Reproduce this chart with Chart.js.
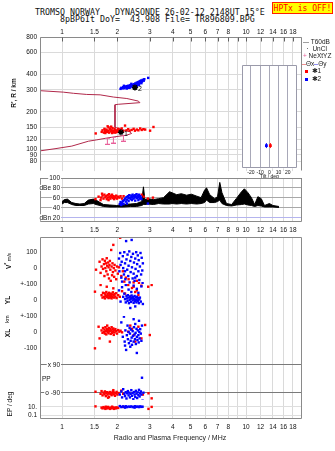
<!DOCTYPE html>
<html><head><meta charset="utf-8">
<script src="https://cdn.jsdelivr.net/npm/chart.js@4.4.0/dist/chart.umd.min.js"></script>
<style>
body{margin:0;background:#fff;width:335px;height:451px;overflow:hidden;position:relative;font-family:"Liberation Sans",Arial,sans-serif;}
canvas{position:absolute;left:0;}
.t{position:absolute;white-space:pre;line-height:1;color:#111;}
.mono{font-family:"DejaVu Sans Mono",monospace;font-size:8.3px;}
.rot{transform:translate(-50%,-50%) rotate(-90deg);}
.lg{position:absolute;font-size:6.5px;line-height:1;white-space:pre;color:#222;}
</style></head><body>
<div class="t mono" style="left:35px;top:8px;">TROMSO NORWAY   DYNASONDE 26-02-12 2148UT 15°E</div>
<div class="t mono" style="left:60px;top:15px;">8pBP6It DoY=  43.908 File= TR896809.BPG</div>
<div class="t mono" style="left:272px;top:2px;width:59px;height:10px;background:#ffff00;border:1px solid #ff2000;color:#ff0000;text-align:center;line-height:11px;font-size:8px;">HPTx is OFF!</div>

<canvas id="cT" width="335" height="178" style="top:0px"></canvas>
<canvas id="cI" width="72" height="120" style="top:60px;left:230px"></canvas>
<canvas id="cS" width="335" height="62" style="top:170px"></canvas>
<canvas id="cV" width="335" height="221" style="top:230px"></canvas>

<div class="t rot" style="left:14px;top:93px;font-size:6.5px;font-weight:bold;">R', R / km</div>
<div class="t rot" style="left:8px;top:261px;font-size:6.5px;font-weight:bold;">V<sup style="font-size:5px">*</sup> <span style="font-size:5px;font-weight:normal">m/s</span></div>
<div class="t rot" style="left:8px;top:300px;font-size:6.5px;font-weight:bold;">YL</div>
<div class="t rot" style="left:8px;top:319px;font-size:5.5px;">km</div>
<div class="t rot" style="left:8px;top:333px;font-size:6.5px;font-weight:bold;">XL</div>
<div class="t" style="left:42px;top:376px;font-size:6.5px;">PP</div>
<div class="t rot" style="left:10px;top:404px;font-size:6.5px;">EP / deg</div>
<div class="t" style="left:170px;top:434px;font-size:7px;transform:translateX(-50%);color:#222;">Radio and Plasma Frequency / MHz</div>

<div class="lg" style="left:303px;top:39px;"><span style="display:inline-block;width:6px;border-top:1px solid #a0a0a0;vertical-align:middle;"></span> T60dB</div>
<div class="lg" style="left:303px;top:46px;">  ·  UnCl</div>
<div class="lg" style="left:303px;top:53px;"><span style="color:#e8609a">+</span> NeXtYZ</div>
<div class="lg" style="left:302px;top:61px;"><span style="display:inline-block;width:4px;border-top:1px solid #f09090;vertical-align:middle;"></span>Θx<span style="display:inline-block;width:4px;border-top:1px solid #9090f0;vertical-align:middle;"></span>Θy</div>
<div class="lg" style="left:305px;top:68px;"><span style="display:inline-block;width:3px;height:3px;background:#ff0000;vertical-align:middle;"></span>  ✱1</div>
<div class="lg" style="left:305px;top:76px;"><span style="display:inline-block;width:3px;height:3px;background:#0000ff;vertical-align:middle;"></span>  ✱2</div>

<script>
// ---------- axis ticks ----------
const freqTicks = [1,1.5,2,3,4,5,6,7,8,9,10,12,14,16,18];
const freqTickLabels = ['1','1.5','2','3','4','5','6','7','8','9','10','12','14','16','18'];
const heightTicks = [800,600,400,300,200,150,120,100,90,80];
const heightTickLabels = ['800','600','400','300','200','150','120','100','90','80'];
const snrTicks = [100,80,60,40,20];
const snrTickLabels = ['100','dBe 80','60','40','dBn 20'];
const vzTicks = [100,0], vzTickLabels = ['100','0'];
const ylTicks = [100,0], ylTickLabels = ['+-100','0'];
const xlTicks = [100,0,-100], xlTickLabels = ['+-100','0','-100'];
const ppTicks = [90,-90], ppTickLabels = ['x 90','o -90'];
const epTicks = [10,0.1], epTickLabels = ['10.','0.1'];
const tiltTicks = [-20,-10,0,10,20], tiltTickLabels = ['-20','-10','0','10','20'];

// ---------- height panel ----------
const profile = [[0.759,296],[1.016,288],[1.152,282],[1.362,276],[1.61,274],[1.90,263],[2.25,256],[2.60,244],[2.65,237],[2.02,230],[1.94,228],[1.94,150],[2.34,138],[2.39,134],[2.25,130],[2.10,128],[1.94,126],[1.75,123],[1.545,119],[1.39,116],[1.13,106],[0.916,101],[0.759,97]];
const nextYZ = [[1.763,116],[1.90,118.6],[2.155,123]];
const redH = [[1.524,134],[1.643,138],[1.66,142],[1.69,136],[1.713,140],[1.72,135],[1.74,144],[1.76,138],[1.786,141],[1.80,136],[1.79,150],[1.82,146],[1.84,139],[1.862,142],[1.87,135],[1.88,148],[1.90,140],[1.92,137],[1.941,143],[1.95,136],[1.97,141],[1.99,138],[2.02,146],[2.04,139],[1.77,153],[1.85,152],[2.07,143],[2.11,147],[2.15,140],[2.20,155],[2.24,142],[2.29,145],[2.33,141],[2.39,143],[2.45,146],[2.49,141],[2.55,144],[2.60,142],[2.66,147],[2.71,143],[2.77,145],[2.83,144],[3.01,141],[3.14,151],[1.70,146],[1.83,144],[1.93,146],[2.00,142],[1.75,141],[1.89,137]];
const blueH = [[2.08,306],[2.10,312],[2.13,309],[2.15,316],[2.18,310],[2.20,320],[2.22,314],[2.24,318],[2.26,322],[2.28,312],[2.30,325],[2.32,318],[2.35,328],[2.37,320],[2.40,330],[2.42,316],[2.44,324],[2.46,334],[2.48,326],[2.50,338],[2.52,330],[2.54,342],[2.56,334],[2.58,346],[2.60,338],[2.62,350],[2.64,342],[2.66,354],[2.68,346],[2.70,358],[2.72,350],[2.75,362],[2.78,356],[2.80,366],[2.94,375],[2.25,308],[2.33,312],[2.45,318],[2.38,336],[2.55,322],[2.17,324],[2.62,330],[2.50,312],[2.70,340]];
const starPts = [[2.09,137],[2.49,314]];
const starLabels = ['1','2'];
const tiltRed = [[1.1,22]], tiltBlue = [[-3.2,22]];

// ---------- SNR panel ----------
const snrF  = [1.0,1.03,1.07,1.13,1.19,1.25,1.32,1.39,1.48,1.53,1.61,1.68,1.82,1.98,2.16,2.35,2.54,2.71,2.77,2.82,2.93,3.14,3.35,3.56,3.84,3.96,4.2,4.45,4.75,5.05,5.4,5.7,5.95,6.1,6.35,6.75,7.0,7.2,7.4,7.83,8.35,8.85,9.45,9.8,10.25,10.7,11.15,11.6,12.1,12.6,13.4,14.0,15.1];
const snrHi = [52,56,57,50,48,47,48,55,57,55,50,46,45,44,46,47,48,52,82,56,58,56,58,60,72,70,66,68,65,67,63,60,75,80,66,58,62,91,70,48,46,58,72,78,70,60,46,62,58,44,48,44,42];
const snrLo = [47,50,50,46,44,44,44,47,48,46,44,42,41,41,41,42,42,44,46,46,47,46,48,47,47,48,47,48,47,48,47,48,50,55,50,50,52,55,48,44,43,45,46,47,45,44,42,44,43,41,41,41,40];
const redS = [[1.52,57],[1.58,62],[1.63,60],[1.66,64],[1.68,58],[1.70,66],[1.72,61],[1.74,63],[1.75,57],[1.77,65],[1.78,60],[1.80,67],[1.81,62],[1.83,58],[1.84,64],[1.86,61],[1.87,66],[1.89,59],[1.90,63],[1.92,57],[1.93,62],[1.95,60],[1.97,64],[1.99,58],[2.02,62],[2.05,60],[2.08,63],[2.12,58],[2.16,63],[1.62,55],[1.79,55],[2.71,66],[2.78,62],[2.93,58],[3.12,60],[1.65,68]];
const blueS = [[2.06,47],[2.08,51],[2.10,45],[2.12,49],[2.14,53],[2.16,47],[2.18,55],[2.20,58],[2.22,52],[2.24,61],[2.26,56],[2.28,63],[2.30,59],[2.32,65],[2.34,60],[2.36,57],[2.38,64],[2.40,61],[2.42,66],[2.44,58],[2.46,63],[2.48,60],[2.50,65],[2.52,62],[2.54,67],[2.56,59],[2.58,64],[2.60,61],[2.62,66],[2.64,58],[2.66,63],[2.68,60],[2.70,57],[2.40,55],[2.30,53],[2.50,54],[2.93,48],[2.60,55],[2.25,48]];

// ---------- velocity / position / polarization panel ----------
const redVz = [[1.53,-10],[1.60,40],[1.62,-30],[1.64,10],[1.66,55],[1.67,-5],[1.69,25],[1.70,-50],[1.71,46],[1.72,0],[1.73,30],[1.74,-20],[1.75,62],[1.76,15],[1.77,-40],[1.78,35],[1.79,5],[1.80,-65],[1.81,20],[1.82,45],[1.83,-10],[1.84,-80],[1.85,114],[1.86,10],[1.87,-45],[1.88,30],[1.89,-25],[1.90,146],[1.91,0],[1.92,-55],[1.93,20],[1.95,-15],[1.97,-70],[1.99,10],[2.01,-35],[2.04,5],[2.07,191],[2.10,-50],[2.14,-20],[2.18,-85],[2.22,-60],[2.30,-70],[2.45,-90],[2.55,-80],[2.62,-95]];
const blueVz = [[2.04,60],[2.05,-20],[2.07,95],[2.08,20],[2.10,-60],[2.11,40],[2.12,-85],[2.14,75],[2.15,0],[2.17,-40],[2.18,100],[2.20,30],[2.21,-70],[2.23,170],[2.24,55],[2.26,-10],[2.27,85],[2.29,-50],[2.30,15],[2.32,105],[2.33,-90],[2.35,45],[2.36,-25],[2.38,70],[2.39,177],[2.40,5],[2.42,-65],[2.43,90],[2.45,-35],[2.46,35],[2.48,-80],[2.50,60],[2.51,-5],[2.53,100],[2.55,-50],[2.56,25],[2.58,80],[2.60,-20],[2.61,50],[2.63,-75],[2.65,10],[2.67,95],[2.69,-40],[2.71,65],[2.73,-15],[2.75,30],[2.74,-95],[2.20,-20],[2.50,-60]];
const redYL = [[1.51,52],[1.62,94],[1.64,30],[1.66,15],[1.67,45],[1.69,20],[1.70,42],[1.71,10],[1.72,35],[1.73,25],[1.74,50],[1.75,83],[1.76,18],[1.77,38],[1.78,28],[1.79,12],[1.80,45],[1.81,22],[1.82,33],[1.83,15],[1.84,40],[1.85,25],[1.86,10],[1.87,35],[1.88,20],[1.89,48],[1.90,73],[1.91,30],[1.92,15],[1.93,38],[1.95,22],[1.97,42],[1.98,12],[2.02,30],[2.06,20],[2.12,55],[2.20,40],[2.29,94],[2.35,20],[2.40,75],[2.45,83],[2.50,50],[2.55,60],[2.60,30],[2.70,90],[2.94,83],[3.07,94]];
const blueYL = [[2.04,60],[2.08,-10],[2.12,80],[2.15,20],[2.18,40],[2.20,5],[2.22,-15],[2.24,25],[2.25,10],[2.27,-5],[2.28,30],[2.30,15],[2.31,-20],[2.33,0],[2.34,22],[2.36,8],[2.37,-12],[2.39,28],[2.40,12],[2.42,-2],[2.43,18],[2.45,-18],[2.46,5],[2.48,25],[2.49,-8],[2.51,15],[2.52,0],[2.54,-15],[2.55,20],[2.57,8],[2.58,-5],[2.60,12],[2.62,-20],[2.63,3],[2.65,15],[2.68,-10],[2.30,65],[2.45,90],[2.55,70],[2.38,50],[2.60,45],[2.70,85],[2.22,94],[2.50,-40],[2.75,-25],[2.35,-50]];
const redXL = [[1.51,-102],[1.58,33],[1.64,10],[1.66,-5],[1.67,25],[1.69,0],[1.70,15],[1.71,-10],[1.72,30],[1.73,5],[1.74,-15],[1.75,20],[1.76,40],[1.77,0],[1.78,12],[1.79,-8],[1.80,25],[1.81,5],[1.82,-60],[1.83,18],[1.84,-12],[1.85,8],[1.86,30],[1.87,-5],[1.88,15],[1.89,0],[1.90,22],[1.91,-18],[1.92,10],[1.93,-3],[1.95,18],[1.97,5],[1.99,-10],[2.02,12],[2.05,2],[2.08,8],[2.12,-2],[2.29,2],[2.35,40],[2.40,20],[2.45,-20],[2.50,-60],[2.60,33],[2.70,-40],[2.83,44],[3.00,-19],[1.60,-40]];
const blueXL = [[2.10,60],[2.14,-30],[2.17,96],[2.19,-60],[2.21,10],[2.23,-112],[2.25,-20],[2.27,40],[2.28,-45],[2.30,0],[2.31,-70],[2.33,25],[2.34,-10],[2.36,-55],[2.37,15],[2.39,-35],[2.40,-80],[2.42,5],[2.43,-25],[2.45,-60],[2.46,30],[2.48,-15],[2.49,-45],[2.51,-5],[2.52,-75],[2.54,20],[2.55,-30],[2.57,-50],[2.58,10],[2.60,-20],[2.61,-65],[2.63,0],[2.64,-40],[2.66,18],[2.68,-10],[2.70,-55],[2.45,80],[2.55,-131],[2.35,-92],[2.62,70],[2.72,40],[2.20,-85],[2.50,50]];
const redPP = [[1.52,-82],[1.62,-95],[1.64,-78],[1.66,-105],[1.68,-88],[1.70,-98],[1.71,-80],[1.73,-110],[1.74,-92],[1.76,-85],[1.77,-100],[1.79,-90],[1.80,-115],[1.82,-84],[1.83,-97],[1.85,-88],[1.86,-104],[1.88,-92],[1.89,-80],[1.91,-99],[1.92,-87],[1.94,-108],[1.96,-93],[1.98,-83],[2.00,-100],[2.03,-90],[1.90,-72],[2.10,-75],[2.15,-95],[2.75,-100],[2.95,-92],[3.07,-124],[1.78,-120]];
const bluePP = [[2.06,-100],[2.10,-80],[2.12,-118],[2.15,-66],[2.18,-95],[2.20,-110],[2.22,-85],[2.24,-125],[2.26,-92],[2.28,-78],[2.30,-105],[2.32,-88],[2.34,-118],[2.36,-96],[2.38,-72],[2.40,-108],[2.42,-90],[2.44,-130],[2.46,-84],[2.48,-100],[2.50,-115],[2.52,-76],[2.54,-94],[2.56,-122],[2.58,-86],[2.60,-104],[2.62,-70],[2.64,-112],[2.66,-92],[2.68,-80],[2.70,-100],[2.74,-139],[2.77,-88],[2.72,7]];
const redEP = [[1.52,12],[1.64,6],[1.66,4],[1.68,8],[1.70,5],[1.72,3],[1.74,7],[1.76,4],[1.78,9],[1.80,5],[1.82,3],[1.84,6],[1.86,4],[1.88,8],[1.90,5],[1.92,3],[1.94,6],[1.96,4],[1.98,7],[2.02,5],[2.15,9],[2.95,3],[3.07,9],[1.73,10],[1.87,10]];
const blueEP = [[2.06,14],[2.10,8],[2.14,12],[2.18,9],[2.22,13],[2.26,8],[2.30,11],[2.34,9],[2.38,12],[2.42,8],[2.46,10],[2.50,13],[2.54,9],[2.58,11],[2.62,8],[2.66,12],[2.70,9],[2.74,10],[2.20,6],[2.48,6]];

// ---------- helpers ----------
const RED = '#ff0000', BLUE = '#0000ff';
const pts = a => a.map(([x,y]) => ({x, y}));
Chart.defaults.font.family = '"Liberation Sans", Arial, sans-serif';
Chart.defaults.font.size = 6.5;
Chart.defaults.color = '#111';
Chart.defaults.animation = false;
Chart.defaults.plugins.legend.display = false;
Chart.defaults.plugins.tooltip.enabled = false;

const framePlugin = {
  id: 'frame',
  afterDraw(chart, args, o) {
    if (!o || !o.color) return;
    const {ctx, chartArea: a} = chart;
    ctx.save();
    ctx.strokeStyle = o.color; ctx.lineWidth = 1;
    const l = Math.round(a.left) + 0.5, r = Math.round(a.right) - 0.5, t = Math.round(a.top) + 0.5, b = Math.round(a.bottom) - 0.5;
    ctx.beginPath();
    ctx.moveTo(l, b); ctx.lineTo(l, t); ctx.lineTo(r, t); ctx.lineTo(r, b);
    if (o.bottom) ctx.lineTo(l, b);
    ctx.stroke();
    if (o.topTicks) {
      ctx.strokeStyle = '#606060';
      chart.scales.x.ticks.forEach(tk => {
        const x = Math.round(chart.scales.x.getPixelForValue(tk.value)) + 0.5;
        ctx.beginPath(); ctx.moveTo(x, t); ctx.lineTo(x, t + 4); ctx.stroke();
      });
    }
    ctx.restore();
  }
};
const insidePlugin = {
  id: 'inside',
  afterDraw(chart, args, o) {
    if (!o || !o.items) return;
    const {ctx} = chart;
    ctx.save();
    ctx.font = '6.5px "Liberation Sans", Arial, sans-serif';
    o.items.forEach(it => {
      const ys = chart.scales[it.axis];
      const xr = chart.scales.x.getPixelForValue(it.anchor) - 2;
      it.values.forEach((v, i) => {
        const y = ys.getPixelForValue(v), t = it.labels[i];
        const w = ctx.measureText(t).width;
        ctx.fillStyle = '#fff'; ctx.fillRect(xr - w - 1, y - 3, w + 2, 6);
        ctx.fillStyle = '#111'; ctx.textAlign = 'right'; ctx.textBaseline = 'middle';
        ctx.fillText(t, xr, y + 0.5);
      });
    });
    ctx.restore();
  }
};
const starPlugin = {
  id: 'starText',
  afterDatasetsDraw(chart, args, o) {
    if (!o || o.dataset === undefined) return;
    const {ctx} = chart;
    ctx.save();
    ctx.font = '7px "Liberation Sans", Arial, sans-serif';
    ctx.fillStyle = '#000'; ctx.textBaseline = 'middle'; ctx.textAlign = 'left';
    chart.getDatasetMeta(o.dataset).data.forEach((el, i) => ctx.fillText(o.labels[i], el.x + 3, el.y + 1.5));
    ctx.restore();
  }
};
const whiteAreaPlugin = {
  id: 'whiteArea',
  beforeDraw(chart, args, o) {
    if (!o || !o.on) return;
    const a = chart.chartArea;
    chart.ctx.save(); chart.ctx.fillStyle = '#fff';
    chart.ctx.fillRect(a.left, a.top, a.right - a.left, a.bottom - a.top);
    chart.ctx.restore();
  }
};
Chart.register(framePlugin, insidePlugin, starPlugin, whiteAreaPlugin);

function iMarker(color) {
  const c = document.createElement('canvas'); c.width = 5; c.height = 7;
  const g = c.getContext('2d'); g.fillStyle = color;
  g.fillRect(2, 0, 1, 7); g.fillRect(0, 0, 5, 1); g.fillRect(0, 6, 5, 1);
  return c;
}
function xScale(position, showLabels, hide9, pad, h) {
  return {
    type: 'logarithmic', position, min: 0.759, max: 20.15, bounds: 'data',
    afterBuildTicks: s => { s.ticks = freqTicks.map(v => ({value: v})); },
    ticks: { display: showLabels, autoSkip: false, maxRotation: 0, minRotation: 0, padding: pad,
      callback: (v, i) => (hide9 && freqTickLabels[i] === '9') ? '' : freqTickLabels[i] },
    grid: { color: '#dadada', drawTicks: false },
    border: { display: false },
    afterFit: s => { s.height = h; }
  };
}
function yScale(opts, ticks, labels, extra) {
  return Object.assign({
    position: 'left', bounds: 'data',
    afterBuildTicks: s => { s.ticks = ticks.map(v => ({value: v})); },
    ticks: { autoSkip: false, padding: 3, callback: (v, i) => labels[i] },
    grid: { display: false, drawTicks: false },
    border: { display: false },
    afterFit: s => { s.width = 40; }
  }, opts, extra || {});
}
const sq = (data, color, axis, order) => ({ data: pts(data), pointStyle: 'rect', pointRadius: 1.7, backgroundColor: color, borderWidth: 0, yAxisID: axis, order });

// ---------- Chart 1: virtual height ----------
new Chart(document.getElementById('cT'), {
  type: 'scatter',
  data: { datasets: [
    { data: pts(starPts), pointStyle: 'star', pointRadius: 3, borderColor: '#000', borderWidth: 1.4, order: 0 },
    sq(redH, RED, 'y', 2),
    sq(blueH, BLUE, 'y', 1),
    { data: pts(nextYZ), pointStyle: iMarker('#e8609a'), pointRadius: 3, order: 3 },
    { data: pts(profile), showLine: true, borderColor: '#b0284a', borderWidth: 1, pointRadius: 0, order: 4 }
  ]},
  options: {
    responsive: false, devicePixelRatio: 1,
    layout: { padding: { right: 33, left: 0, top: 0, bottom: 0 } },
    scales: {
      x: xScale('top', true, true, 1, 37),
      y: yScale({ type: 'logarithmic', min: 66.7, max: 800 }, heightTicks, heightTickLabels,
        { grid: { color: '#dadada', drawTicks: false } })
    },
    plugins: { frame: { color: '#8a8a8a', topTicks: true }, starText: { dataset: 0, labels: starLabels } }
  }
});

// ---------- Chart 1b: tilt inset ----------
new Chart(document.getElementById('cI'), {
  type: 'scatter',
  data: { datasets: [
    { data: pts(tiltRed), pointStyle: 'rect', pointRadius: 2, backgroundColor: RED, borderWidth: 0 },
    { data: pts(tiltRed), pointStyle: 'line', rotation: 90, pointRadius: 2.5, borderColor: RED, borderWidth: 1 },
    { data: pts(tiltBlue), pointStyle: 'rect', pointRadius: 2, backgroundColor: BLUE, borderWidth: 0 },
    { data: pts(tiltBlue), pointStyle: 'line', rotation: 90, pointRadius: 2.5, borderColor: BLUE, borderWidth: 1 }
  ]},
  options: {
    responsive: false, devicePixelRatio: 1,
    layout: { padding: { left: 11.7, right: 4.3, top: 5, bottom: 0 } },
    scales: {
      x: { type: 'linear', min: -30, max: 30, bounds: 'data',
        afterBuildTicks: s => { s.ticks = tiltTicks.map(v => ({value: v})); },
        ticks: { font: { size: 5 }, padding: 1, autoSkip: false, maxRotation: 0, callback: (v, i) => tiltTickLabels[i] },
        grid: { color: '#a8a8b8', drawTicks: false }, border: { display: false },
        title: { display: true, text: 'Tilt / deg', font: { size: 5 }, padding: 0 },
        afterFit: s => { s.height = 11.7; } },
      y: { type: 'linear', min: 0, max: 100, display: false }
    },
    plugins: { frame: { color: '#9a9aaa', bottom: true }, whiteArea: { on: true } }
  }
});

// ---------- Chart 2: SNR ----------
new Chart(document.getElementById('cS'), {
  type: 'scatter',
  data: { datasets: [
    sq(redS, RED, 'y', 1),
    sq(blueS, BLUE, 'y', 0),
    { data: snrF.map((f, i) => ({x: f, y: snrLo[i]})), showLine: true, borderColor: '#000', borderWidth: 1, pointRadius: 0, order: 5 },
    { data: snrF.map((f, i) => ({x: f, y: snrHi[i]})), showLine: true, borderColor: '#000', borderWidth: 1, pointRadius: 0, fill: '-1', backgroundColor: '#000', order: 6 }
  ]},
  options: {
    responsive: false, devicePixelRatio: 1,
    layout: { padding: { right: 33, left: 0, top: 8, bottom: 0 } },
    scales: {
      x: xScale('bottom', true, false, 4, 10),
      y: yScale({ type: 'linear', min: 10.4, max: 100 }, snrTicks, snrTickLabels,
        { ticks: { display: false },
          grid: { display: true, drawTicks: false,
            color: c => c.tick && c.tick.value === 100 ? '#707070' : (c.tick && c.tick.value === 20 ? '#b4b4ee' : '#a8a8a8') } })
    },
    plugins: { frame: { color: '#8a8a8a', bottom: true },
      inside: { items: [{ axis: 'y', anchor: 1, values: snrTicks, labels: snrTickLabels }] } }
  }
});

// ---------- Chart 3: Vz / YL / XL / PP / EP ----------
new Chart(document.getElementById('cV'), {
  type: 'scatter',
  data: { datasets: [
    sq(blueVz, BLUE, 'yVz', 0), sq(redVz, RED, 'yVz', 1),
    sq(blueYL, BLUE, 'yYL', 0), sq(redYL, RED, 'yYL', 1),
    sq(blueXL, BLUE, 'yXL', 0), sq(redXL, RED, 'yXL', 1),
    sq(bluePP, BLUE, 'yPP', 0), sq(redPP, RED, 'yPP', 1),
    sq(blueEP, BLUE, 'yEP', 0), sq(redEP, RED, 'yEP', 1)
  ]},
  options: {
    responsive: false, devicePixelRatio: 1,
    layout: { padding: { right: 33, left: 0, top: 7, bottom: 0 } },
    scales: {
      x: xScale('bottom', true, true, 4, 32),
      yVz: yScale({ type: 'linear', min: -100, max: 195.6, stack: 'v', stackWeight: 47, weight: 5 }, vzTicks, vzTickLabels),
      yYL: yScale({ type: 'linear', min: -100, max: 100, stack: 'v', stackWeight: 32, weight: 4 }, ylTicks, ylTickLabels),
      yXL: yScale({ type: 'linear', min: -150, max: 100, stack: 'v', stackWeight: 40, weight: 3 }, xlTicks, xlTickLabels),
      yPP: yScale({ type: 'linear', min: -134.6, max: 145.4, stack: 'v', stackWeight: 44, weight: 2 }, ppTicks, ppTickLabels,
        { ticks: { display: false }, grid: { display: true, drawTicks: false, color: '#7a7a7a' } }),
      yEP: yScale({ type: 'logarithmic', min: 0.011, max: 410, stack: 'v', stackWeight: 19, weight: 1 }, epTicks, epTickLabels,
        { grid: { display: true, drawTicks: false, color: '#dedede' } })
    },
    plugins: { frame: { color: '#8a8a8a', bottom: true },
      inside: { items: [{ axis: 'yPP', anchor: 1, values: ppTicks, labels: ppTickLabels }] } }
  }
});
</script>
</body></html>
